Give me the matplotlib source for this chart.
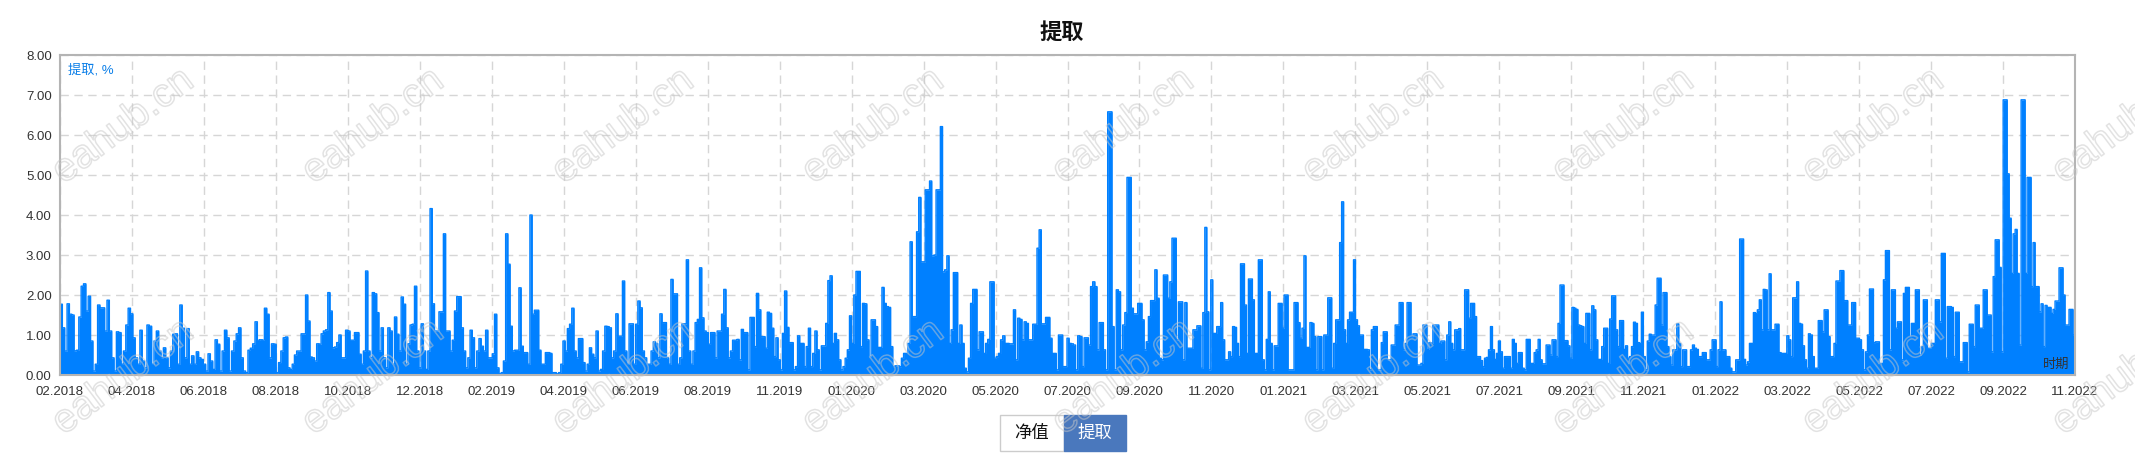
import numpy as np
import matplotlib
matplotlib.use("Agg")
import matplotlib.pyplot as plt
import matplotlib.patheffects as pe
from matplotlib.patches import Rectangle
from matplotlib.ticker import FormatStrFormatter

plt.rcParams['font.family'] = ['Liberation Sans', 'Noto Sans CJK SC', 'DejaVu Sans']

# drawdown (%), in 9 consecutive stretches of the time axis
seg1 = [1.77, 1.18, 0.6, 1.78, 1.52, 1.5, 0.6, 0.62, 1.45, 2.22, 2.28, 1.6, 1.97, 0.85, 0.1, 0.27,
        1.75, 1.68, 1.68, 1.1, 1.87, 1.1, 0.43, 0.1, 1.08, 1.06, 0.27, 0.6, 1.25, 1.67, 1.53, 0.93,
        0.43, 0.27, 1.12, 0.35, 0.18, 1.25, 1.22, 0.27, 0.85, 1.1, 0.6, 0.43, 0.68, 0.43, 0.18, 0.6,
        1.02, 1.03, 0.27, 1.75, 1.17, 0.43, 1.16, 0.27, 0.48, 0.27, 0.58, 0.43, 0.39, 0.27, 0.1, 0.53,
        0.35, 0.14, 0.88, 0.77, 0.1, 0.6, 1.12, 0.93, 0.1, 0.6, 0.85, 1.03, 1.18, 0.43, 0.1, 0.06,
        0.62, 0.67, 0.78, 1.33, 0.87, 0.88, 0.87, 1.67, 1.52, 0.43, 0.78, 0.77, 0.06, 0.31, 0.6, 0.93]
seg2 = [0.95, 0.18, 0.14, 0.27, 0.5, 0.6, 0.6, 1.03, 1.03, 2.0, 1.35, 0.45, 0.43, 0.35, 0.78, 0.77,
        1.03, 1.1, 1.13, 2.06, 1.6, 0.68, 0.7, 0.81, 1.0, 0.43, 0.43, 1.12, 1.1, 0.87, 0.87, 1.06,
        1.06, 0.52, 0.27, 0.6, 2.6, 0.6, 0.43, 2.06, 2.03, 1.56, 0.6, 1.18, 0.43, 0.18, 1.18, 1.1,
        0.27, 1.45, 1.02, 0.6, 1.95, 1.77, 0.27, 0.78, 1.25, 1.27, 2.22, 0.6, 0.18, 1.28, 0.6, 0.14,
        0.6, 4.16, 1.78, 1.1, 1.1, 1.58, 1.58, 3.53, 1.1, 1.1, 0.6, 0.87, 1.6, 1.96, 1.96, 1.18,
        0.6, 0.18, 0.43, 1.12, 0.93, 0.18, 0.6, 0.91, 0.72, 0.6, 1.12, 0.43, 0.43, 0.53, 1.52, 0.18,
        0.03, 0.06, 0.35, 3.53, 2.77, 1.22]
seg3 = [0.6, 0.62, 0.62, 2.18, 0.72, 0.56, 0.56, 0.27, 4.0, 1.52, 1.62, 1.62, 0.62, 0.27, 0.27, 0.56,
        0.56, 0.54, 0.06, 0.06, 0.03, 0.06, 0.27, 0.85, 0.6, 1.16, 1.27, 1.67, 0.6, 0.43, 0.91, 0.91,
        0.31, 0.1, 0.27, 0.68, 0.52, 0.43, 1.1, 0.1, 0.14, 0.6, 1.22, 1.21, 1.18, 0.43, 0.6, 1.53,
        0.97, 0.97, 2.35, 0.6, 0.27, 1.28, 1.28, 0.27, 1.27, 1.85, 1.68, 0.6, 0.43, 0.27, 0.27, 0.6,
        0.83, 0.79, 0.43, 1.53, 1.31, 1.31, 0.43, 0.27, 2.39, 2.03, 2.03, 0.27, 0.43, 1.28, 1.28, 2.88,
        0.6, 0.27, 0.6, 1.31, 1.39, 2.68, 1.43, 1.1, 1.06, 0.77, 1.06, 1.06, 0.43, 1.1, 1.1, 1.52,
        2.14, 1.18, 0.43, 0.6, 0.87, 0.87]
seg4 = [0.89, 0.38, 1.14, 1.06, 1.06, 0.13, 1.44, 1.44, 0.71, 2.04, 1.63, 0.96, 0.96, 0.67, 1.57, 1.54,
        1.17, 0.46, 0.93, 0.38, 0.13, 1.04, 2.1, 1.19, 0.81, 0.81, 0.13, 0.21, 0.98, 0.79, 0.79, 0.21,
        0.71, 1.17, 0.21, 0.54, 1.1, 0.63, 0.13, 0.73, 0.73, 1.29, 2.36, 2.48, 0.79, 1.04, 0.88, 0.38,
        0.13, 0.21, 0.42, 0.63, 1.48, 0.79, 2.0, 2.59, 2.59, 0.71, 1.79, 1.78, 0.88, 0.46, 1.38, 1.38,
        1.21, 0.69, 0.69, 2.19, 1.79, 1.71, 1.69, 0.71, 0.21, 0.23, 0.23, 0.21, 0.42, 0.54, 0.54, 0.79,
        3.33, 1.46, 1.46, 3.58, 4.44, 2.83, 2.83, 4.63, 4.63, 4.85, 2.98, 3.0, 4.63, 4.63, 6.21, 2.58,
        2.63, 2.98, 0.79, 1.13, 2.56, 2.56, 0.79, 1.25]
seg5 = [0.79, 0.17, 0.08, 0.42, 1.79, 2.14, 2.14, 0.63, 1.08, 1.08, 0.54, 0.79, 0.89, 2.33, 2.33, 0.42,
        0.46, 0.54, 0.88, 0.98, 0.79, 0.79, 0.78, 0.78, 1.63, 0.38, 1.42, 1.39, 0.88, 1.33, 1.29, 0.88,
        0.88, 1.27, 1.27, 3.17, 3.63, 1.28, 1.28, 1.44, 1.44, 0.92, 0.54, 0.54, 0.13, 1.0, 1.0, 0.21,
        0.21, 0.92, 0.79, 0.78, 0.75, 0.13, 0.98, 0.96, 0.21, 0.93, 0.93, 0.75, 2.21, 2.33, 2.21, 0.63,
        1.31, 1.31, 0.63, 0.13, 6.58, 6.58, 1.21, 0.13, 2.13, 2.08, 0.63, 1.25, 1.56, 4.94, 4.94, 1.67,
        1.53, 1.53, 1.79, 1.79, 1.38, 0.63, 0.83, 1.46, 1.86, 1.86, 2.63, 1.92, 0.42, 0.38, 2.5, 2.5,
        1.92, 2.33, 3.42, 3.42, 0.88, 1.83, 1.83, 0.38, 1.81]
seg6 = [0.67, 0.67, 0.67, 1.13, 1.13, 1.23, 1.23, 0.17, 1.56, 3.69, 1.58, 0.13, 2.38, 1.04, 1.04, 1.21,
        1.21, 1.81, 0.88, 0.38, 0.38, 0.58, 0.46, 1.21, 1.19, 0.79, 0.46, 2.78, 2.78, 1.75, 0.54, 2.4,
        2.4, 1.88, 0.54, 0.54, 2.88, 2.88, 0.38, 0.13, 0.89, 2.08, 0.79, 0.13, 0.73, 0.73, 1.79, 1.79,
        1.17, 2.0, 2.0, 0.13, 0.13, 0.13, 1.81, 1.81, 1.31, 0.92, 1.17, 2.98, 0.69, 0.69, 1.31, 1.29,
        0.96, 0.13, 0.96, 0.96, 0.13, 1.0, 1.0, 1.93, 1.93, 0.17, 0.79, 1.38, 1.38, 3.31, 4.33, 1.13,
        0.79, 1.38, 1.57, 1.57, 2.88, 1.38, 1.23, 1.0, 1.0, 0.64, 0.64, 0.63, 0.13, 1.13, 1.21, 1.21,
        0.13, 0.13, 0.81, 1.08, 1.08, 0.38, 0.38, 0.75, 0.75, 1.25, 1.25, 1.81, 1.81, 0.63, 0.79, 1.81,
        1.81, 0.96]
seg7 = [1.03, 1.03, 0.25, 0.25, 0.29, 1.25, 1.25, 0.64, 0.81, 0.79, 1.25, 1.25, 1.25, 0.79, 0.85, 0.85,
        0.38, 1.0, 1.33, 0.79, 0.63, 1.13, 1.13, 1.16, 0.63, 0.63, 2.13, 2.13, 1.42, 1.79, 1.79, 1.46,
        0.46, 0.46, 0.36, 0.21, 0.42, 0.44, 0.63, 1.21, 0.63, 0.39, 0.54, 0.85, 0.58, 0.17, 0.46, 0.46,
        0.46, 0.17, 0.89, 0.79, 0.29, 0.56, 0.56, 0.17, 0.13, 0.89, 0.89, 0.29, 0.29, 0.56, 0.63, 0.89,
        0.38, 0.28, 0.28, 0.75, 0.75, 0.5, 0.88, 0.88, 0.46, 1.29, 2.25, 2.25, 0.86, 0.86, 0.73, 0.42,
        1.69, 1.67, 1.64, 1.25, 1.23, 1.21, 0.79, 1.54, 1.54, 0.63, 1.73, 1.63, 0.88, 0.39, 0.39, 0.71,
        1.17, 1.17, 0.29, 1.4, 1.98, 1.98, 1.13, 0.71, 1.36, 1.36, 0.64, 0.73, 0.42, 0.46, 0.71, 1.32,
        1.29]
seg8 = [0.81, 0.79, 1.57, 0.46, 0.13, 0.85, 1.02, 1.0, 1.0, 1.75, 2.42, 2.42, 1.25, 2.06, 2.06, 0.71,
        0.46, 0.25, 0.63, 0.63, 1.28, 0.79, 0.21, 0.63, 0.63, 0.21, 0.21, 0.63, 0.75, 0.67, 0.64, 0.46,
        0.46, 0.56, 0.56, 0.38, 0.38, 0.63, 0.88, 0.88, 0.21, 0.63, 1.83, 0.63, 0.63, 0.46, 0.46, 0.17,
        0.08, 0.08, 0.38, 0.38, 3.4, 3.4, 0.39, 0.25, 0.33, 0.79, 0.79, 1.56, 1.54, 1.63, 1.88, 1.13,
        2.14, 2.13, 1.13, 2.53, 1.13, 1.13, 1.27, 1.27, 0.56, 0.54, 0.54, 0.54, 0.98, 0.88, 0.46, 1.93,
        1.93, 2.33, 1.29, 1.27, 0.73, 0.38, 0.17, 1.03, 1.0, 0.46, 0.17, 0.17, 1.36, 1.36, 1.08, 1.63,
        1.63, 0.96, 0.46, 0.46, 0.79, 2.35, 2.35, 2.61, 2.61, 1.86, 1.86, 1.25, 1.25, 1.81, 1.81, 0.92,
        0.92, 0.88]
seg9 = [0.63, 0.13, 0.58, 1.0, 2.15, 2.15, 0.81, 0.83, 0.83, 0.29, 0.29, 2.38, 3.11, 3.11, 0.63, 2.13,
        2.13, 1.17, 1.33, 1.33, 0.38, 2.04, 2.19, 2.19, 0.96, 1.29, 1.29, 2.13, 2.13, 0.5, 0.71, 1.88,
        1.88, 0.67, 0.67, 0.79, 0.79, 1.88, 1.88, 1.33, 3.04, 3.04, 0.42, 1.71, 1.71, 1.69, 0.46, 1.57,
        1.57, 0.33, 0.33, 0.81, 0.81, 0.08, 1.27, 1.27, 0.71, 1.75, 1.75, 1.17, 1.17, 2.13, 2.13, 1.5,
        1.5, 0.58, 2.46, 3.38, 3.38, 2.69, 0.58, 6.88, 6.88, 5.03, 3.92, 2.54, 3.53, 3.64, 2.54, 0.75,
        6.88, 6.88, 2.54, 4.94, 4.94, 2.21, 3.31, 2.21, 2.21, 1.58, 1.78, 0.71, 1.74, 1.69, 1.69, 1.54,
        1.64, 1.85, 1.85, 2.68, 2.68, 2.0, 1.25, 1.25, 1.64, 1.64, 1.0]
segments = [seg1, seg2, seg3, seg4, seg5, seg6, seg7, seg8, seg9]

# where each stretch starts/ends, in units of the x grid (one unit per label)
seg_edges = [0.0, 3.134, 6.285, 9.407, 12.534, 15.660, 18.801, 21.920, 25.033, 28.0]

x_labels = ['02.2018', '04.2018', '06.2018', '08.2018', '10.2018', '12.2018', '02.2019', '04.2019',
            '06.2019', '08.2019', '11.2019', '01.2020', '03.2020', '05.2020', '07.2020', '09.2020',
            '11.2020', '01.2021', '03.2021', '05.2021', '07.2021', '09.2021', '11.2021', '01.2022',
            '03.2022', '05.2022', '07.2022', '09.2022', '11.2022']
y_ticks = [0, 1, 2, 3, 4, 5, 6, 7, 8]

xs, ys = [], []
for vals, a, b in zip(segments, seg_edges[:-1], seg_edges[1:]):
    n = len(vals)
    step = (b - a) / n
    xs.append(a + step * (np.arange(n) + 0.5))
    ys.append(np.array(vals))
x = np.concatenate(xs)
y = np.concatenate(ys)
x = np.concatenate([[0.0], x, [28.0]])
y = np.concatenate([[y[0]], y, [y[-1]]])

W, H = 2135, 470
fig = plt.figure(figsize=(W / 100, H / 100), dpi=100)
ax = fig.add_axes([60 / W, 1 - 375 / H, 2015 / W, 320 / H])

blue = '#0080ff'
ax.fill_between(x, 0, y, step='mid', color=blue, lw=0, zorder=3)
ax.plot(x, y, color=blue, lw=1.0, zorder=3, drawstyle='steps-mid')

ax.set_xlim(0, 28)
ax.set_ylim(0, 8)
ax.set_xticks(range(len(x_labels)))
ax.set_xticklabels(x_labels)
ax.set_yticks(y_ticks)
ax.yaxis.set_major_formatter(FormatStrFormatter('%.2f'))
ax.tick_params(length=0, labelsize=9.5, colors='#333333')
ax.tick_params(axis='y', pad=6)
ax.tick_params(axis='x', pad=8)

ax.grid(True, color='#d6d6d6', lw=1, dashes=(6, 4), zorder=1)
ax.set_axisbelow(True)
for s in ax.spines.values():
    s.set_color('#b4b4b4')
    s.set_linewidth(1.5)
    s.set_zorder(4)

ax.text(8 / 2015, 1 - 15 / 320, '提取, %', transform=ax.transAxes, color='#0a7ee8',
        fontsize=9.5, va='center', ha='left', zorder=5)
ax.text(1 - 6 / 2015, 10 / 320, '时期', transform=ax.transAxes, color='#333333',
        fontsize=9.5, va='center', ha='right', zorder=5)

fig.text(1062 / W, 1 - 32 / H, '提取', ha='center', va='center', fontsize=16,
         fontweight='bold', color='#111111', family=['Noto Sans CJK SC', 'DejaVu Sans'])

# the two switch buttons under the chart
fig.patches.append(Rectangle((1000 / W, 1 - 451 / H), 64 / W, 36 / H, transform=fig.transFigure,
                             facecolor='white', edgecolor='#cccccc', lw=1))
fig.patches.append(Rectangle((1064 / W, 1 - 451 / H), 62 / W, 36 / H, transform=fig.transFigure,
                             facecolor='#4a78bd', edgecolor='#4a78bd', lw=1))
fig.text(1032 / W, 1 - 433 / H, '净值', ha='center', va='center', fontsize=12.5, color='#111111')
fig.text(1095 / W, 1 - 433 / H, '提取', ha='center', va='center', fontsize=12.5, color='white')

# watermark
for row_y in [126, 377]:
    for col_x in range(123, 2200, 250):
        fig.text(col_x / W, 1 - row_y / H, 'eahub.cn', ha='center', va='center', fontsize=29,
                 rotation=37, color=(1, 1, 1, 0), zorder=10,
                 path_effects=[pe.withStroke(linewidth=1.1, foreground=(0.78, 0.78, 0.78, 0.5))])

fig.savefig('out.png', dpi=100)
